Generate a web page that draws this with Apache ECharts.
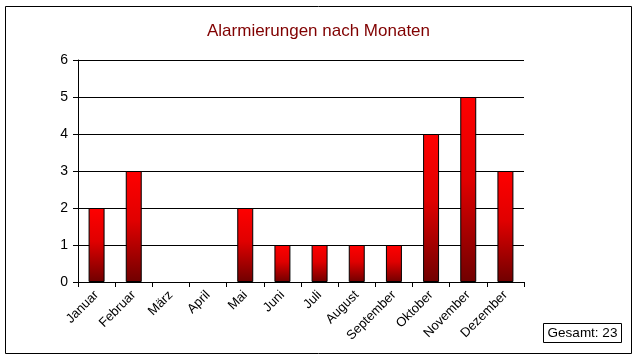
<!DOCTYPE html>
<html><head><meta charset="utf-8">
<script src="https://cdn.jsdelivr.net/npm/echarts@6/dist/echarts.min.js"></script>
<style>html,body{margin:0;padding:0;background:#fff}#c{width:637px;height:363px}</style>
</head><body><div id="c"></div>
<script>
const months = ['Januar','Februar','März','April','Mai','Juni','Juli','August','September','Oktober','November','Dezember'];
const counts = [2,3,0,0,2,1,1,1,1,4,5,3];
const yTicks = [0,1,2,3,4,5,6];
const titleText = 'Alarmierungen nach Monaten';
const totalText = 'Gesamt: 23';

const chart = echarts.init(document.getElementById('c'), null, {renderer:'canvas'});
chart.setOption({
  animation:false,
  backgroundColor:'#fff',
  title:{text:titleText,left:'center',top:18,itemGap:0,
    textStyle:{color:'#800000',fontFamily:'Liberation Sans, Arial',fontSize:17,fontWeight:'normal'}},
  grid:{left:78,right:113,top:60,bottom:81,containLabel:false},
  xAxis:{type:'category',data:months,
    axisLine:{lineStyle:{color:'#000',width:1}},
    axisTick:{show:true,length:5,lineStyle:{color:'#000'}},
    axisLabel:{rotate:45,color:'#000',fontFamily:'Liberation Sans, Arial',fontSize:13,margin:11,interval:0}},
  yAxis:{type:'value',min:yTicks[0],max:yTicks[yTicks.length-1],interval:1,
    axisLine:{show:true,lineStyle:{color:'#000',width:1}},
    axisTick:{show:true,length:5,lineStyle:{color:'#000'}},
    splitLine:{lineStyle:{color:'#000',width:1}},
    axisLabel:{color:'#000',fontFamily:'Liberation Sans, Arial',fontSize:14,margin:10}},
  series:[{type:'bar',data:counts.map(v => v === 0 ? '-' : v),barWidth:'43%',
    itemStyle:{borderColor:'#000',borderWidth:1,
      color:new echarts.graphic.LinearGradient(0,0,0,1,[{offset:0,color:'#ff0000'},{offset:0.45,color:'#e00000'},{offset:1,color:'#700000'}])}}],
  graphic:[
    {type:'rect',shape:{x:5.5,y:6.5,width:626,height:347},style:{fill:null,stroke:'#000',lineWidth:1},silent:true,z:-1},
    {type:'rect',shape:{x:543.5,y:323.5,width:78,height:19},style:{fill:'#fff',stroke:'#000',lineWidth:1}},
    {type:'text',x:582.5,y:333.5,style:{text:totalText,fill:'#000',font:'13.5px Liberation Sans, Arial',align:'center',verticalAlign:'middle'}}
  ]
});
</script></body></html>
